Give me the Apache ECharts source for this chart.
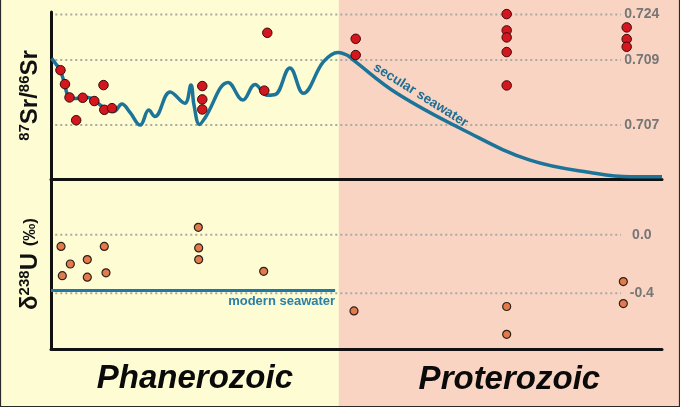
<!DOCTYPE html>
<html>
<head>
<meta charset="utf-8">
<script src="https://cdn.jsdelivr.net/npm/echarts@6.0.0/dist/echarts.min.js"></script>
<style>
html, body { margin: 0; padding: 0; }
#main { width: 680px; height: 407px; }
</style>
</head>
<body>
<div id="main"></div>
<script>
// x is relative time (0 = left edge, 100 = right edge), era change at 47.1
var eraNames = ['Phanerozoic', 'Proterozoic'];
var eraBoundary = 47.1;

// 87Sr/86Sr ticks and where they sit on the (schematic, not linear) axis
var srTicks = [0.707, 0.709, 0.724];
var srTickPos = [0, 1, 1.7];

// secular seawater curve
var seawaterX = [0.1, 0.8, 1.5, 2.2, 2.8, 3.4, 4.8, 6.1, 7.4, 8.8, 9.7, 10.3, 11.6, 12.9, 14.6,
    16.0, 17.0, 19.5, 21.9, 22.9, 23.4, 24.3, 25.2, 29.0, 31.4, 33.4, 35.4, 36.7, 39.1, 41.3,
    44.6, 47.0, 48.6, 49.5, 56.6, 67.5, 78.4, 89.3, 94.8, 100];
var seawaterSr = [0.70956, 0.70888, 0.70869, 0.70828, 0.70787, 0.70782, 0.70783, 0.70785, 0.70771,
    0.70751, 0.70743, 0.70742, 0.70765, 0.70740, 0.70700, 0.70746, 0.70726, 0.70802, 0.70767,
    0.70823, 0.70762, 0.70702, 0.70722, 0.70831, 0.70777, 0.70825, 0.70792, 0.70794, 0.70876,
    0.70798, 0.70895, 0.71154, 0.71048, 0.70900, 0.70798, 0.70685, 0.70592, 0.70551, 0.70541, 0.70541];

// carbonate samples, 87Sr/86Sr
var srSampleX = [1.55, 2.29, 3.03, 4.12, 5.19, 7.09, 8.59, 8.72, 9.98, 24.76, 24.76, 24.76, 35.40,
    34.91, 49.87, 49.87, 74.58, 74.58, 74.58, 74.58, 74.58, 94.22, 94.22, 94.22];
var srSampleY = [0.70869, 0.70826, 0.70785, 0.70715, 0.70784, 0.70774, 0.70823, 0.70747, 0.70752,
    0.70820, 0.70779, 0.70748, 0.71800, 0.70806, 0.71602, 0.71065, 0.72417, 0.71879, 0.71648,
    0.71164, 0.70822, 0.71978, 0.71592, 0.71339];

// delta 238U
var uTicks = [0.0, -0.4];
var uSampleX = [1.64, 1.85, 3.16, 5.94, 5.94, 8.72, 9.00, 24.11, 24.17, 24.17, 34.81, 49.59,
    74.58, 74.58, 93.67, 93.67];
var uSampleY = [-0.08, -0.28, -0.20, -0.17, -0.29, -0.08, -0.26, 0.05, -0.09, -0.17, -0.25,
    -0.52, -0.49, -0.68, -0.32, -0.47];
var modernSeawaterU = -0.38;
var modernSeawaterX = [0, 46.5];

// piecewise linear between the tick values, straight on past both ends
function srPos(v) {
    var n = srTicks.length, i = 0;
    if (v >= srTicks[n - 2]) {
        i = n - 2;
    } else {
        while (i < n - 2 && v > srTicks[i + 1]) i++;
    }
    var t = (v - srTicks[i]) / (srTicks[i + 1] - srTicks[i]);
    return srTickPos[i] + t * (srTickPos[i + 1] - srTickPos[i]);
}

var font = 'Liberation Sans, Arial, sans-serif';
var gridX0 = 0.7, gridX1 = 93.3, tickLabelX = 96.7;

function gridLine(axisIdx, y) {
    return {
        type: 'line', xAxisIndex: axisIdx, yAxisIndex: axisIdx, silent: true, z: 1,
        symbol: 'none', data: [[gridX0, y], [gridX1, y]],
        lineStyle: { color: '#aaa9a2', width: 2, type: [2, 3] }
    };
}

function tickLabels(axisIdx, vals, pos, digits) {
    return {
        type: 'scatter', xAxisIndex: axisIdx, yAxisIndex: axisIdx, silent: true, symbolSize: 0,
        itemStyle: { opacity: 1 },
        data: vals.map(function (v) { return [tickLabelX, pos(v), v.toFixed(digits)]; }),
        label: {
            show: true, position: 'inside', formatter: function (p) { return p.data[2]; },
            color: '#767676', fontWeight: 'bold', fontSize: 14, fontFamily: font
        }
    };
}

function axisBits(gi) {
    return {
        gridIndex: gi, type: 'value',
        axisLine: { show: true, onZero: false, lineStyle: { color: '#111', width: 3 } },
        axisTick: { show: false }, axisLabel: { show: false }, splitLine: { show: false }
    };
}

var series = [];
srTicks.forEach(function (v) { series.push(gridLine(0, srPos(v))); });
uTicks.forEach(function (v) { series.push(gridLine(1, v)); });
series.push(tickLabels(0, srTicks, srPos, 3));
series.push(tickLabels(1, uTicks, function (v) { return v; }, 1));

series.push({
    name: 'secular seawater', type: 'line', xAxisIndex: 0, yAxisIndex: 0, z: 3,
    symbol: 'none', smooth: 0.4, silent: true,
    data: seawaterX.map(function (x, i) { return [x, srPos(seawaterSr[i])]; }),
    lineStyle: { color: '#1d7499', width: 3.5 }
});
series.push({
    type: 'scatter', xAxisIndex: 0, yAxisIndex: 0, silent: true, symbolSize: 0,
    itemStyle: { opacity: 1 },
    data: [[60.5, srPos(0.70792)]],
    label: {
        show: true, position: 'inside', formatter: 'secular seawater', rotate: -32,
        color: '#1f6f93', fontWeight: 'bold', fontSize: 13.5, fontFamily: font
    }
});
series.push({
    name: 'Sr samples', type: 'scatter', xAxisIndex: 0, yAxisIndex: 0, z: 4, symbolSize: 9.5,
    data: srSampleX.map(function (x, i) { return [x, srPos(srSampleY[i])]; }),
    itemStyle: { color: '#d4161e', borderColor: '#3d0a0a', borderWidth: 1, opacity: 1 }
});

series.push({
    name: 'modern seawater', type: 'line', xAxisIndex: 1, yAxisIndex: 1, z: 3,
    symbol: 'none', silent: true,
    data: modernSeawaterX.map(function (x) { return [x, modernSeawaterU]; }),
    lineStyle: { color: '#1f79a4', width: 3 }
});
series.push({
    type: 'scatter', xAxisIndex: 1, yAxisIndex: 1, silent: true, symbolSize: 0,
    itemStyle: { opacity: 1 },
    data: [[modernSeawaterX[1], modernSeawaterU]],
    label: {
        show: true, position: [0, 5], align: 'right', verticalAlign: 'top',
        formatter: 'modern seawater', color: '#2a7fa8', fontWeight: 'bold', fontSize: 13, fontFamily: font
    }
});
series.push({
    name: 'U samples', type: 'scatter', xAxisIndex: 1, yAxisIndex: 1, z: 4, symbolSize: 8,
    data: uSampleX.map(function (x, i) { return [x, uSampleY[i]]; }),
    itemStyle: { color: '#e27b4c', borderColor: '#2e2119', borderWidth: 1.2, opacity: 1 }
});

var yTop = axisBits(0);
yTop.min = -0.83; yTop.max = 1.74;
yTop.name = '{sup|87}{b|Sr/}{sup|86}{b|Sr}';
var yBot = axisBits(1);
yBot.min = -0.78; yBot.max = 0.38;
yBot.name = '{b|δ}{sup|238}{b|U }{p|(‰)}';
[yTop, yBot].forEach(function (a) {
    a.nameLocation = 'middle';
    a.nameRotate = 90;
    a.nameGap = 8;
    a.nameTextStyle = {
        fontFamily: font,
        rich: {
            b: { fontSize: 24, fontWeight: 'bold', color: '#111', fontFamily: font, lineHeight: 26 },
            sup: { fontSize: 15, fontWeight: 'bold', color: '#111', fontFamily: font, verticalAlign: 'top', lineHeight: 26 },
            p: { fontSize: 17, fontWeight: 'bold', color: '#111', fontFamily: font, lineHeight: 26 }
        }
    };
});
var xTop = axisBits(0), xBot = axisBits(1);
xTop.min = xBot.min = 0;
xTop.max = xBot.max = 100;

var chart = echarts.init(document.getElementById('main'));
chart.setOption({
    animation: false,
    backgroundColor: '#fdfcd3',
    textStyle: { fontFamily: font },
    grid: [
        { left: 51, right: 18, top: 12, height: 167 },
        { left: 51, right: 18, top: 179, height: 170 }
    ],
    xAxis: [xTop, xBot],
    yAxis: [yTop, yBot],
    series: series
});

// background for the two eras and their names
var bx = chart.convertToPixel({ gridIndex: 0 }, [eraBoundary, 0])[0];
var left0 = chart.convertToPixel({ gridIndex: 0 }, [0, 0])[0];
var W = chart.getWidth(), H = chart.getHeight();
chart.setOption({
    graphic: [
        { type: 'rect', z: -10, silent: true, shape: { x: bx, y: 0, width: W - bx, height: H },
          style: { fill: '#f9d4c3' } },
        { type: 'rect', z: 100, silent: true, shape: { x: 0.5, y: -2, width: W - 1, height: H + 1.5 },
          style: { fill: 'none', stroke: '#2a2a2a', lineWidth: 1.2 } },
        { type: 'text', z: 10, silent: true, x: (left0 + bx) / 2, y: 379,
          style: { text: eraNames[0], font: 'italic bold 33px ' + font, fill: '#0a0a0a',
                   align: 'center', verticalAlign: 'middle' } },
        { type: 'text', z: 10, silent: true, x: (bx + W) / 2, y: 380,
          style: { text: eraNames[1], font: 'italic bold 33px ' + font, fill: '#0a0a0a',
                   align: 'center', verticalAlign: 'middle' } }
    ]
});
</script>
</body>
</html>
